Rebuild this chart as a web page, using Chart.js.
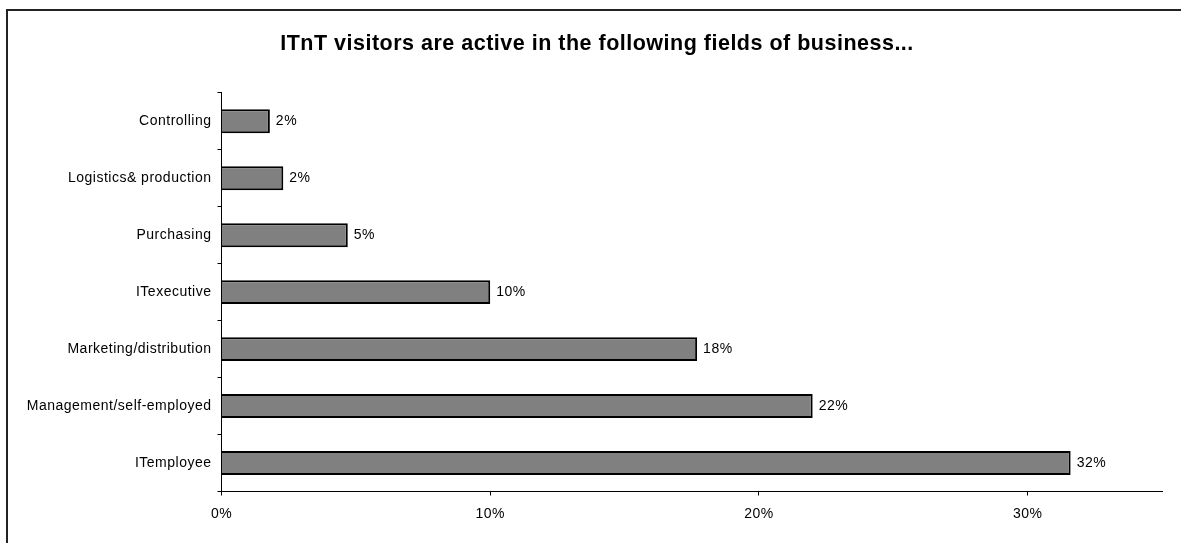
<!DOCTYPE html>
<html lang="en">
<head>
    <meta charset="UTF-8">
    <script src="https://cdn.jsdelivr.net/npm/chart.js"></script>
    <title>ITnT visitors</title>
    <style>
        html, body { margin: 0; padding: 0; background: #fff; }
        .frame {
            position: absolute;
            left: 6px;
            top: 9px;
            width: 1175px;
            height: 534px;
            border-top: 2px solid #222;
            border-left: 2px solid #222;
        }
        .frame canvas { display: block; }
    </style>
</head>
<body>
    <div class="frame">
        <canvas id="chart" width="1173" height="532"></canvas>
    </div>
    <script>
        // fields of business, top to bottom
        const fields = [
            "Controlling",
            "Logistics& production",
            "Purchasing",
            "ITexecutive",
            "Marketing/distribution",
            "Management/self-employed",
            "ITemployee"
        ];
        // share of visitors in percent
        const shares = [1.8, 2.3, 4.7, 10.0, 17.7, 22.0, 31.6];
        const xTicks = [0, 10, 20, 30];

        const font = "'Liberation Sans', Arial, sans-serif";

        // wider letter spacing for all text on the canvas
        const spacing = {
            id: "spacing",
            beforeDraw(chart) { chart.ctx.letterSpacing = "0.5px"; },
            afterDraw(chart) { chart.ctx.letterSpacing = "0px"; }
        };

        // nudge the title box so the heading sits a bit further right
        const titleShift = {
            id: "titleShift",
            afterLayout(chart) {
                if (chart.titleBlock) chart.titleBlock.left = 24;
            }
        };

        // percentage label to the right of each bar
        const valueLabels = {
            id: "valueLabels",
            afterDatasetsDraw(chart) {
                const ctx = chart.ctx;
                ctx.save();
                ctx.font = "14px " + font;
                ctx.fillStyle = "#000";
                ctx.textAlign = "left";
                ctx.textBaseline = "middle";
                chart.getDatasetMeta(0).data.forEach((bar, i) => {
                    ctx.fillText(Math.round(shares[i]) + "%", bar.x + 6, bar.y);
                });
                ctx.restore();
            }
        };

        new Chart(document.getElementById("chart"), {
            type: "bar",
            data: {
                labels: fields,
                datasets: [{
                    data: shares,
                    backgroundColor: "#808080",
                    borderColor: "#000",
                    borderWidth: 2,
                    barPercentage: 0.42,
                    categoryPercentage: 1
                }]
            },
            options: {
                indexAxis: "y",
                responsive: false,
                animation: false,
                layout: { padding: { left: 0, right: 19, top: 0, bottom: 0 } },
                plugins: {
                    legend: { display: false },
                    tooltip: { enabled: false },
                    title: {
                        display: true,
                        text: "ITnT visitors are active in the following fields of business...",
                        color: "#000",
                        font: { family: font, size: 21.5, weight: "bold" },
                        padding: { top: 20, bottom: 36 }
                    }
                },
                scales: {
                    x: {
                        min: 0,
                        max: 35,
                        afterFit(scale) { scale.height = 51.5; },
                        afterBuildTicks(scale) {
                            scale.ticks = xTicks.map(v => ({ value: v }));
                        },
                        border: { color: "#000", width: 1 },
                        grid: {
                            drawOnChartArea: false,
                            color: "#000",
                            tickLength: 4
                        },
                        ticks: {
                            color: "#000",
                            padding: 10,
                            font: { family: font, size: 14 },
                            callback: v => v + "%"
                        }
                    },
                    y: {
                        afterFit(scale) { scale.width = 213.5; },
                        border: { color: "#000", width: 1 },
                        grid: {
                            offset: true,
                            drawOnChartArea: false,
                            color: "#000",
                            tickLength: 4
                        },
                        ticks: {
                            color: "#000",
                            padding: 6,
                            font: { family: font, size: 14 }
                        }
                    }
                }
            },
            plugins: [spacing, titleShift, valueLabels]
        });
    </script>
</body>
</html>
